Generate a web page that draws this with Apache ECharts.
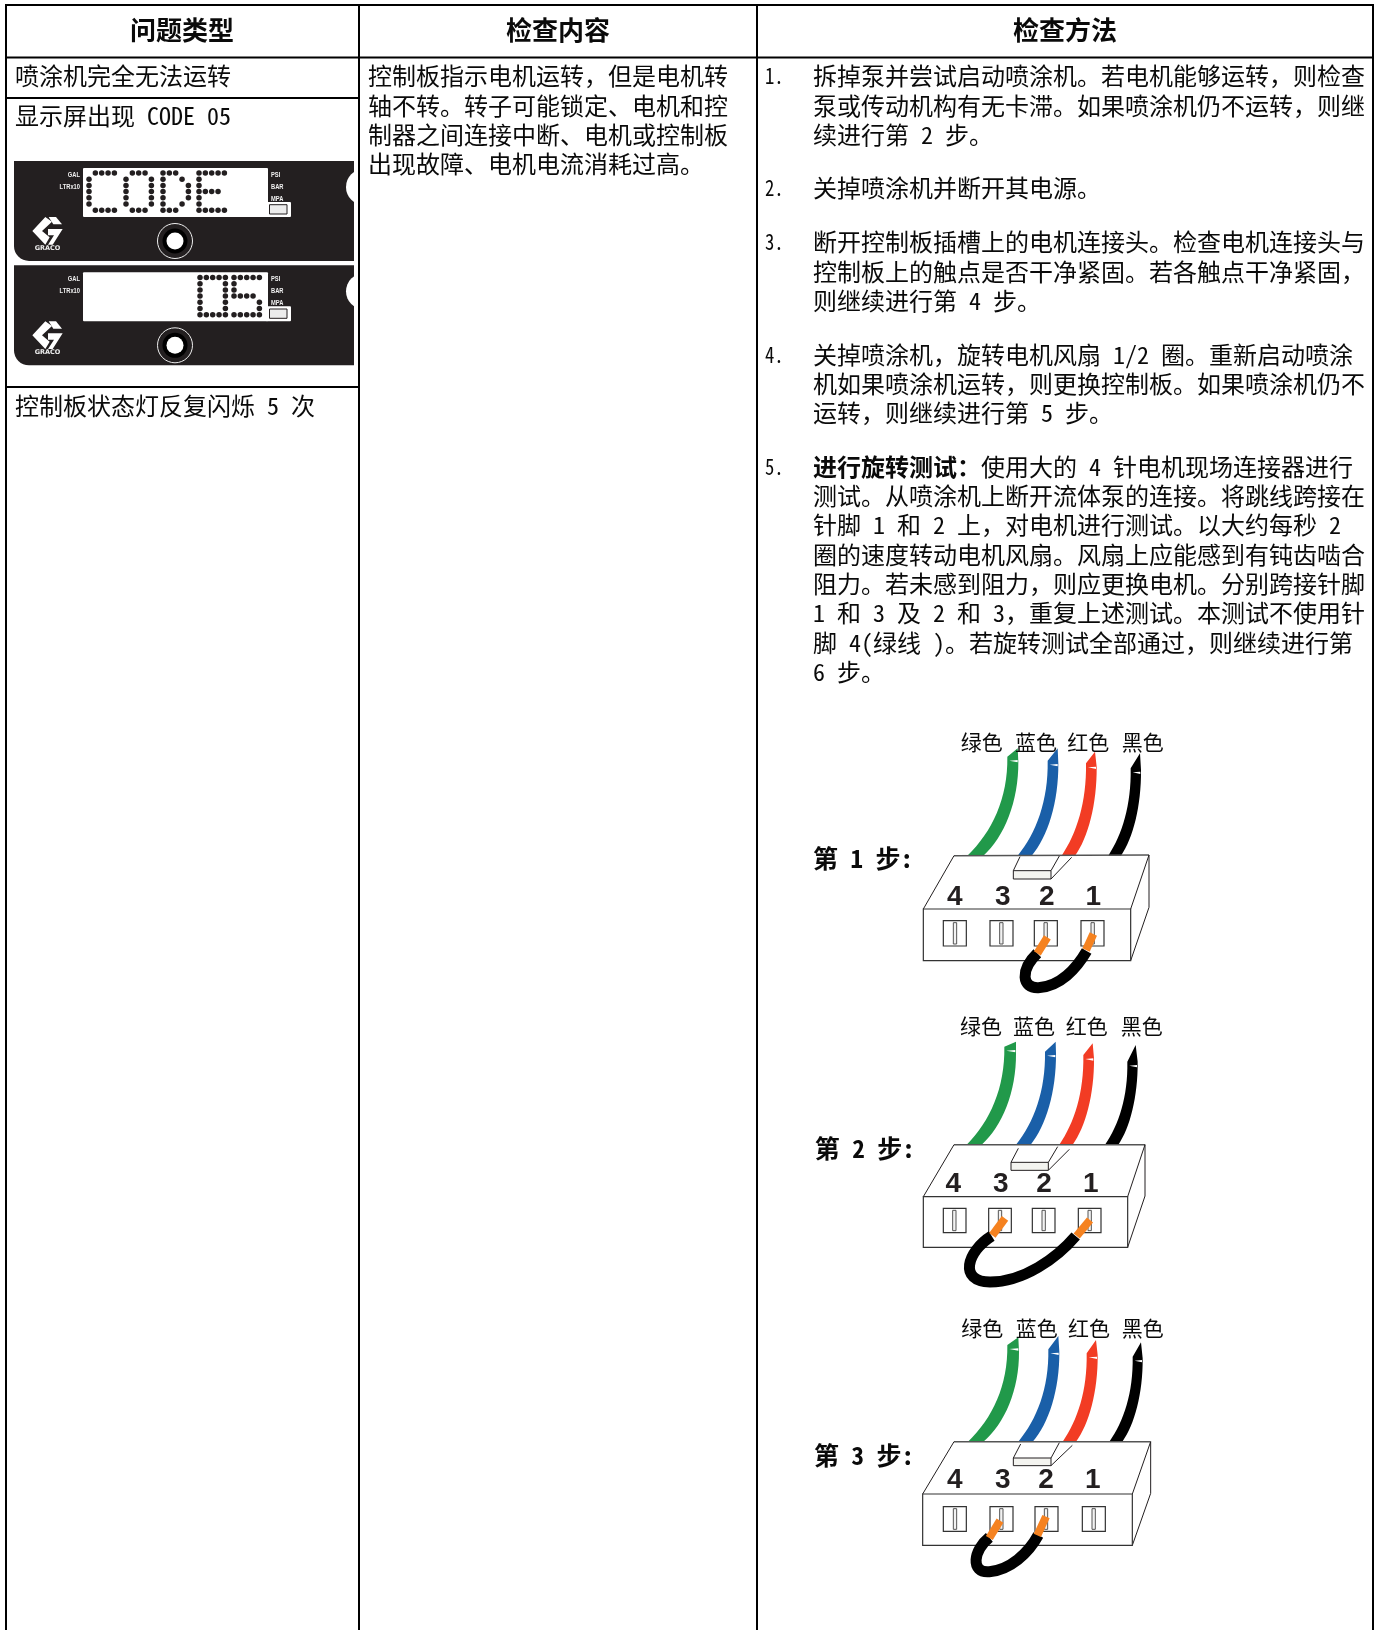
<!DOCTYPE html>
<html>
<head>
<meta charset="utf-8">
<title>CODE 05</title>
<style>
  html, body { margin: 0; padding: 0; background: #fff; overflow: hidden; }
  #main { width: 1382px; height: 1630px; }
</style>
<script src="https://cdn.jsdelivr.net/npm/echarts@6/dist/echarts.min.js"></script>
</head>
<body>
<div id="main"></div>
<script>
const headers = ['问题类型', '检查内容', '检查方法'];
const typeLines = ['喷涂机完全无法运转', '显示屏出现 CODE 05', '控制板状态灯反复闪烁 5 次'];
const contentLines = [
  '控制板指示电机运转，但是电机转',
  '轴不转。转子可能锁定、电机和控',
  '制器之间连接中断、电机或控制板',
  '出现故障、电机电流消耗过高。'
];
const methodNumbers = ['1.', '2.', '3.', '4.', '5.'];
const methodLines = [
  '拆掉泵并尝试启动喷涂机。若电机能够运转，则检查',
  '泵或传动机构有无卡滞。如果喷涂机仍不运转，则继',
  '续进行第 2 步。',
  '关掉喷涂机并断开其电源。',
  '断开控制板插槽上的电机连接头。检查电机连接头与',
  '控制板上的触点是否干净紧固。若各触点干净紧固，',
  '则继续进行第 4 步。',
  '关掉喷涂机，旋转电机风扇 1/2 圈。重新启动喷涂',
  '机如果喷涂机运转，则更换控制板。如果喷涂机仍不',
  '运转，则继续进行第 5 步。',
  '使用大的 4 针电机现场连接器进行',
  '测试。从喷涂机上断开流体泵的连接。将跳线跨接在',
  '针脚 1 和 2 上，对电机进行测试。以大约每秒 2',
  '圈的速度转动电机风扇。风扇上应能感到有钝齿啮合',
  '阻力。若未感到阻力，则应更换电机。分别跨接针脚',
  '1 和 3 及 2 和 3，重复上述测试。本测试不使用针',
  '脚 4(绿线 )。若旋转测试全部通过，则继续进行第',
  '6 步。'
];
const boldLead = '进行旋转测试：';
const wireNames = ['绿色', '蓝色', '红色', '黑色'];
const pinNames = ['4', '3', '2', '1'];
const stepNames = ['第 1 步:', '第 2 步:', '第 3 步:'];
const panelLeft = ['GAL', 'LTRx10'];
const panelRight = ['PSI', 'BAR', 'MPA'];

// dot matrix, 5 cols x 7 rows
const ledC = ['.####', '#....', '#....', '#....', '#....', '#....', '.####'];
const ledO = ['.###.', '#...#', '#...#', '#...#', '#...#', '#...#', '.###.'];
const ledD = ['###..', '#..#.', '#...#', '#...#', '#...#', '#..#.', '###..'];
const ledE = ['#####', '#....', '#....', '####.', '#....', '#....', '#####'];
const led0 = ['#####', '#...#', '#...#', '#...#', '#...#', '#...#', '#####'];
const led5 = ['#####', '#....', '#....', '####.', '....#', '....#', '#####'];

const typeY = [76, 116, 406];
const contentY = [76, 105.5, 135, 164];
const numberY = [76, 188, 242, 355, 467];
const methodY = [76, 105.5, 135, 188, 242, 271.5, 300.6, 354.7, 384, 413, 467, 496, 525, 554.4, 583.5, 612.6, 642.8, 672];
const headerX = [182, 558, 1065];

const rules = [
  [5, 5, 1374, 5], [5, 57.5, 1374, 57.5], [6, 5, 6, 1630],
  [359, 5, 359, 1630], [757, 5, 757, 1630], [1373, 5, 1373, 1630],
  [6, 98, 359, 98], [6, 387, 359, 387]
];

const steps = [
  {
    origin: [790, 720], labelAt: [69, 415], namesY: 67, namesX: [512, 675, 832, 995],
    top: [492, 407, 1077, 405], front: [400, 567, 1022, 722], backDrop: 562,
    tab: [670, 452, 783, 477, 690, 410, 808, 408, 845, 412],
    digits: [494, 638, 770, 910], digitY: 533,
    sockets: [460, 600, 733, 873], socketW: 69, socketY: [602, 678], slots: [495, 634, 767, 908],
    wires: [
      [532, 580, 652, 110, 683, 85, 685, 125],
      [683, 725, 773, 122, 803, 85, 805, 130],
      [815, 855, 888, 130, 915, 95, 920, 140],
      [955, 993, 1022, 145, 1050, 100, 1053, 150]
    ],
    stubs: [[772, 652, 742, 700], [910, 642, 888, 690]],
    loop: [742, 700, 690, 750, 695, 805, 745, 803, 810, 800, 860, 745, 890, 693]
  },
  {
    origin: [790, 1010], labelAt: [74, 415], namesY: 47, namesX: [510, 669, 827, 992],
    top: [492, 404, 1065, 404], front: [400, 560, 1013, 712], backDrop: 558,
    tab: [663, 457, 775, 481, 685, 415, 803, 410, 838, 418],
    digits: [490, 632, 762, 902], digitY: 523,
    sockets: [460, 596, 727, 865], socketW: 68, socketY: [595, 668], slots: [493, 630, 761, 899],
    wires: [
      [530, 575, 643, 110, 678, 95, 678, 130],
      [678, 722, 765, 125, 797, 95, 798, 130],
      [808, 848, 880, 135, 908, 100, 912, 145],
      [945, 985, 1012, 155, 1037, 105, 1043, 155]
    ],
    stubs: [[645, 625, 607, 676], [900, 630, 860, 678]],
    loop: [605, 678, 530, 725, 505, 815, 600, 816, 700, 816, 800, 745, 857, 678]
  },
  {
    origin: [790, 1310], labelAt: [72, 435], namesY: 55, namesX: [514, 677, 834, 995],
    top: [492, 395, 1082, 395], front: [398, 552, 1027, 706], backDrop: 550,
    tab: [670, 444, 783, 467, 692, 402, 808, 398, 847, 406],
    digits: [494, 638, 768, 908], digitY: 511,
    sockets: [460, 600, 735, 877], socketW: 69, socketY: [590, 664], slots: [495, 634, 768, 911],
    wires: [
      [534, 580, 652, 105, 685, 82, 687, 125],
      [685, 728, 775, 118, 805, 78, 808, 125],
      [818, 858, 890, 130, 918, 90, 923, 135],
      [958, 997, 1028, 140, 1053, 97, 1058, 145]
    ],
    stubs: [[630, 632, 598, 684], [768, 620, 742, 676]],
    loop: [598, 682, 550, 720, 540, 790, 598, 785, 660, 780, 715, 730, 745, 675]
  }
];
const wireColors = ['#21994a', '#1a5fa8', '#f23c24', '#000000'];

const cjkFont = '"Noto Sans Mono CJK SC", "Noto Sans CJK SC", sans-serif';
const inkColor = '#0a0a0a';
const panelColor = '#231f20';

var chart = echarts.init(document.getElementById('main'), null, { renderer: 'canvas' });

function textEl(api, str, x, y, size, opts) {
  opts = opts || {};
  var p = api.coord([x, y]);
  return {
    type: 'text',
    x: p[0],
    y: p[1],
    scaleX: opts.scaleX || 1,
    style: {
      text: str,
      fontSize: size,
      fontFamily: opts.family || cjkFont,
      fontWeight: opts.weight || 'normal',
      fill: opts.fill || inkColor,
      align: opts.align || 'left',
      verticalAlign: 'middle'
    }
  };
}

function lineEl(api, x1, y1, x2, y2, width, color) {
  var a = api.coord([x1, y1]), b = api.coord([x2, y2]);
  return {
    type: 'line',
    shape: { x1: a[0], y1: a[1], x2: b[0], y2: b[1] },
    style: { stroke: color, lineWidth: width, fill: null }
  };
}

function rectEl(api, x1, y1, x2, y2, style, r) {
  var a = api.coord([x1, y1]), b = api.coord([x2, y2]);
  return {
    type: 'rect',
    shape: { x: a[0], y: a[1], width: b[0] - a[0], height: b[1] - a[1], r: r || 0 },
    style: style
  };
}

function circleEl(api, x, y, r, style) {
  var c = api.coord([x, y]);
  return { type: 'circle', shape: { cx: c[0], cy: c[1], r: r }, style: style };
}

function polyEl(api, pts, style) {
  return {
    type: 'polygon',
    shape: { points: pts.map(function (p) { return api.coord(p); }) },
    style: style
  };
}

function renderPanel(params, api) {
  var dy = params.dataIndex * 104.3;
  var kids = [];
  var labelOpts = { family: 'Liberation Sans', weight: 'bold', fill: '#f0f0f0', scaleX: 0.72 };
  kids.push(rectEl(api, 14, 161 + dy, 354, 261 + dy, { fill: panelColor }, [0, 0, 0, 15]));
  kids.push(circleEl(api, 364, 187 + dy, 18, { fill: '#fff' }));
  kids.push(rectEl(api, 83, 168 + dy, 268, 217 + dy, { fill: '#fff' }, 1));
  kids.push(rectEl(api, 266, 202 + dy, 291, 217 + dy, { fill: '#fff' }, 1));
  kids.push(rectEl(api, 269.5, 204.7 + dy, 287, 214 + dy, { fill: '#ececec', stroke: panelColor, lineWidth: 1 }));
  panelLeft.forEach(function (s, i) {
    kids.push(textEl(api, s, 80, 174.5 + dy + i * 12, 8, Object.assign({ align: 'right' }, labelOpts)));
  });
  panelRight.forEach(function (s, i) {
    kids.push(textEl(api, s, 271, 174.5 + dy + i * 12, 8, labelOpts));
  });
  // knob
  kids.push(circleEl(api, 175, 241 + dy, 17.5, { fill: panelColor, stroke: '#eee', lineWidth: 1 }));
  kids.push(circleEl(api, 175, 241 + dy, 12.5, { fill: '#000' }));
  kids.push(circleEl(api, 175, 241 + dy, 8.5, { fill: '#fff' }));
  // logo
  var lx = 20, ly = 205 + dy, k = 1 / 3;
  function lp(a) { return a.map(function (q) { return [lx + q[0] * k, ly + q[1] * k]; }); }
  kids.push(polyEl(api, lp([[76, 36], [37, 78], [76, 119], [89, 97], [66, 78], [96, 50]]), { fill: '#fff' }));
  kids.push(polyEl(api, lp([[86, 36], [108, 36], [126, 58], [100, 58]]), { fill: '#fff' }));
  kids.push(polyEl(api, lp([[84, 72], [128, 72], [98, 119], [84, 119], [102, 91], [84, 91]]), { fill: '#fff' }));
  kids.push(textEl(api, 'GRACO', 47.5, 248 + dy, 6.5, { family: 'DejaVu Sans', weight: 'bold', fill: '#eee', align: 'center' }));
  return { type: 'group', children: kids };
}

// which glyphs sit on which panel
const ledGroups = [
  { glyphs: [ledC, ledO, ledD, ledE], startX: [89, 126, 163, 199], rowY: 173 },
  { glyphs: [led0, led5], startX: [200, 234], rowY: 277.5 }
];

function renderLed(params, api) {
  var g = ledGroups[params.dataIndex];
  var kids = [];
  g.glyphs.forEach(function (rows, n) {
    rows.forEach(function (row, r) {
      row.split('').forEach(function (cell, c) {
        if (cell === '#') {
          kids.push(circleEl(api, g.startX[n] + c * 6.35, g.rowY + r * 6.2, 2.75, { fill: panelColor }));
        }
      });
    });
  });
  return { type: 'group', children: kids };
}

function renderStep(params, api) {
  var s = steps[params.dataIndex];
  var kids = [];
  function z(x, y) { return [s.origin[0] + x / 3, s.origin[1] + y / 3]; }
  function pt(x, y) { return api.coord(z(x, y)); }
  function zLine(x1, y1, x2, y2, w, c) {
    var a = z(x1, y1), b = z(x2, y2);
    return lineEl(api, a[0], a[1], b[0], b[1], w, c);
  }
  function cubic(p) { return 'C' + pt(p[0], p[1]).join(' ') + ' ' + pt(p[2], p[3]).join(' ') + ' ' + pt(p[4], p[5]).join(' '); }

  var baseY = s.top[1];
  // wires, behind the body outline
  s.wires.forEach(function (w, i) {
    var bl = w[0], br = w[1], tlx = w[2], tly = w[3], tipx = w[4], tipy = w[5], trx = w[6], tr_y = w[7];
    var d = 'M' + pt(bl, baseY).join(' ') +
      cubic([bl + (tlx - bl) * 0.62, baseY - (baseY - tly) * 0.24, tlx + 2, tly + (baseY - tly) * 0.42, tlx, tly]) +
      'L' + pt(tipx, tipy).join(' ') + 'L' + pt(trx, tr_y).join(' ') +
      cubic([trx + 1, tr_y + (baseY - tr_y) * 0.42, br + (trx - br) * 0.6, baseY - (baseY - tr_y) * 0.2, br, baseY]) + 'Z';
    kids.push({ type: 'path', shape: { pathData: d }, style: { fill: wireColors[i] } });
    var mark = [z(tlx + 6, tly + 12), z(trx - 2, tly + 10), z(trx - 2, tly + 17)];
    kids.push(polyEl(api, mark, { fill: '#fff' }));
    var nameAt = z(s.namesX[i], s.namesY);
    kids.push(textEl(api, wireNames[i], nameAt[0], nameAt[1], 21, {}));
  });

  // body
  var f = s.front;
  kids.push(zLine(s.top[0], s.top[1], s.top[2], s.top[3], 1.5, '#555'));
  kids.push(zLine(s.top[0], s.top[1], f[0], f[1], 1, '#231f20'));
  kids.push(zLine(s.top[2], s.top[3], f[2], f[1], 1, '#231f20'));
  kids.push(zLine(s.top[2], s.top[3], s.top[2], s.backDrop, 1, '#231f20'));
  kids.push(zLine(s.top[2], s.backDrop, f[2], f[3], 1, '#231f20'));
  var fa = z(f[0], f[1]), fb = z(f[2], f[3]);
  kids.push(rectEl(api, fa[0], fa[1], fb[0], fb[1], { fill: '#fff', stroke: '#333', lineWidth: 1.2 }));

  // clip tab on the top face
  var t = s.tab;
  var ta = z(t[0], t[1]), tb = z(t[2], t[3]);
  kids.push(rectEl(api, ta[0], ta[1], tb[0], tb[1], { fill: '#f4f4f0', stroke: '#231f20', lineWidth: 1 }));
  kids.push(zLine(t[0], t[1], t[4], t[5], 1, '#231f20'));
  kids.push(zLine(t[2], t[1], t[6], t[7], 1, '#231f20'));
  kids.push(zLine(t[2], t[3], t[8], t[9], 1, '#231f20'));

  // pin numbers and sockets
  pinNames.forEach(function (name, i) {
    var at = z(s.digits[i], s.digitY);
    kids.push(textEl(api, name, at[0], at[1], 28, { family: 'Liberation Sans', weight: 'bold', fill: '#231f20', align: 'center' }));
    var a = z(s.sockets[i], s.socketY[0]), b = z(s.sockets[i] + s.socketW, s.socketY[1]);
    kids.push(rectEl(api, a[0], a[1], b[0], b[1], { fill: '#fff', stroke: '#333', lineWidth: 1.2 }));
    var sa = z(s.slots[i] - 5, s.socketY[0] + 6), sb = z(s.slots[i] + 5, s.socketY[1] - 6);
    kids.push(rectEl(api, sa[0], sa[1], sb[0], sb[1], { fill: '#f2f2f2', stroke: '#555', lineWidth: 1 }));
  });

  // jumper
  var l = s.loop;
  kids.push({
    type: 'path',
    shape: { pathData: 'M' + pt(l[0], l[1]).join(' ') + cubic(l.slice(2, 8)) + cubic(l.slice(8, 14)) },
    style: { fill: 'none', stroke: '#000', lineWidth: 11 }
  });
  s.stubs.forEach(function (st) {
    kids.push(zLine(st[0], st[1], st[2], st[3], 8, '#f58220'));
  });

  var lab = z(s.labelAt[0], s.labelAt[1]);
  kids.push(textEl(api, stepNames[params.dataIndex], lab[0], lab[1], 25, { weight: 'bold' }));
  return { type: 'group', children: kids };
}

function renderRules(params, api) {
  var r = rules[params.dataIndex];
  return lineEl(api, r[0], r[1], r[2], r[3], 2, '#000');
}

function renderText(params, api) {
  var kids = [];
  headers.forEach(function (s, i) {
    kids.push(textEl(api, s, headerX[i], 30, 26, { weight: 'bold', align: 'center' }));
  });
  typeLines.forEach(function (s, i) { kids.push(textEl(api, s, 15, typeY[i], 24)); });
  contentLines.forEach(function (s, i) { kids.push(textEl(api, s, 368, contentY[i], 24)); });
  methodNumbers.forEach(function (s, i) { kids.push(textEl(api, s, 765, numberY[i], 22, { scaleX: 0.85 })); });
  methodLines.forEach(function (s, i) {
    // line 10 starts after the bold lead-in
    var x = i === 10 ? 813 + boldLead.length * 24 : 813;
    kids.push(textEl(api, s, x, methodY[i], 24));
  });
  kids.push(textEl(api, boldLead, 813, methodY[10], 24, { weight: 'bold' }));
  return { type: 'group', children: kids };
}

function customSeries(count, fn) {
  var data = [];
  for (var i = 0; i < count; i++) data.push([i, 0]);
  return { type: 'custom', silent: true, clip: false, coordinateSystem: 'cartesian2d', data: data, renderItem: fn, animation: false };
}

var option = {
  animation: false,
  backgroundColor: '#fff',
  tooltip: { show: false },
  grid: { left: 0, right: 0, top: 0, bottom: 0 },
  xAxis: { type: 'value', min: 0, max: 1382, show: false },
  yAxis: { type: 'value', min: 0, max: 1630, inverse: true, show: false },
  series: [
    customSeries(2, renderPanel),
    customSeries(2, renderLed),
    customSeries(rules.length, renderRules),
    customSeries(1, renderText),
    customSeries(steps.length, renderStep)
  ]
};

chart.setOption(option);
</script>
</body>
</html>
